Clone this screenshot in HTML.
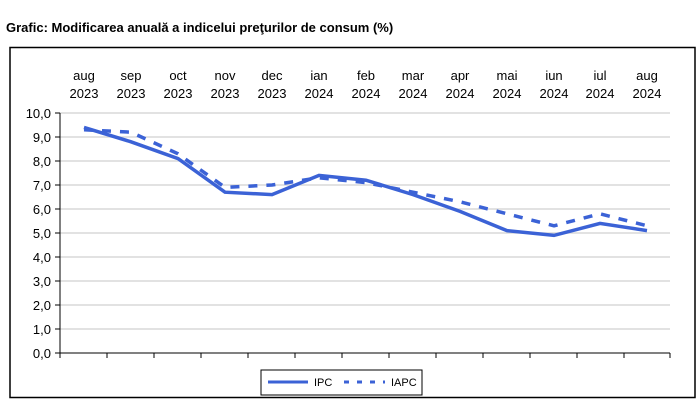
<!DOCTYPE html>
<html><head><meta charset="utf-8"><style>
body{margin:0;background:#fff;width:700px;height:407px;overflow:hidden}
</style></head><body>
<svg width="700" height="407" xmlns="http://www.w3.org/2000/svg" font-family="Liberation Sans, sans-serif">
<text x="6" y="32" font-size="13" font-weight="bold" fill="#000">Grafic: Modificarea anuală a indicelui preţurilor de consum (%)</text>
<rect x="10" y="47.5" width="685" height="350" fill="none" stroke="#000" stroke-width="1.5"/>
<g stroke="#d9d9d9" stroke-width="1.5">
<line x1="60" x2="670" y1="113" y2="113"/><line x1="60" x2="670" y1="137" y2="137"/><line x1="60" x2="670" y1="161" y2="161"/><line x1="60" x2="670" y1="185" y2="185"/><line x1="60" x2="670" y1="209" y2="209"/><line x1="60" x2="670" y1="233" y2="233"/><line x1="60" x2="670" y1="257" y2="257"/><line x1="60" x2="670" y1="281" y2="281"/><line x1="60" x2="670" y1="305" y2="305"/><line x1="60" x2="670" y1="329" y2="329"/>
</g>
<g stroke="#000" stroke-width="1">
<line x1="60" x2="60" y1="113" y2="358"/>
<line x1="60" x2="670" y1="353" y2="353"/>
<path d="M55 113h5M55 137h5M55 161h5M55 185h5M55 209h5M55 233h5M55 257h5M55 281h5M55 305h5M55 329h5M55 353h5"/>
<path d="M107 353v5M154 353v5M201 353v5M248 353v5M295 353v5M342 353v5M389 353v5M436 353v5M483 353v5M530 353v5M577 353v5M624 353v5M670 353v5"/>
</g>
<g font-size="13" text-anchor="end" fill="#000">
<text x="51" y="118">10,0</text><text x="51" y="142">9,0</text><text x="51" y="166">8,0</text><text x="51" y="190">7,0</text><text x="51" y="214">6,0</text><text x="51" y="238">5,0</text><text x="51" y="262">4,0</text><text x="51" y="286">3,0</text><text x="51" y="310">2,0</text><text x="51" y="334">1,0</text><text x="51" y="358">0,0</text>
</g>
<g font-size="13" text-anchor="middle" fill="#000">
<text x="84" y="80">aug</text><text x="84" y="98">2023</text>
<text x="131" y="80">sep</text><text x="131" y="98">2023</text>
<text x="178" y="80">oct</text><text x="178" y="98">2023</text>
<text x="225" y="80">nov</text><text x="225" y="98">2023</text>
<text x="272" y="80">dec</text><text x="272" y="98">2023</text>
<text x="319" y="80">ian</text><text x="319" y="98">2024</text>
<text x="366" y="80">feb</text><text x="366" y="98">2024</text>
<text x="413" y="80">mar</text><text x="413" y="98">2024</text>
<text x="460" y="80">apr</text><text x="460" y="98">2024</text>
<text x="507" y="80">mai</text><text x="507" y="98">2024</text>
<text x="554" y="80">iun</text><text x="554" y="98">2024</text>
<text x="600" y="80">iul</text><text x="600" y="98">2024</text>
<text x="647" y="80">aug</text><text x="647" y="98">2024</text>
</g>
<polyline fill="none" stroke="#3b62d6" stroke-width="3.5" stroke-dasharray="9,9" points="84,129.8 131,132.2 178,153.8 225,187.4 272,185 319,177.8 366,182.6 413,192.2 460,201.8 507,213.8 554,225.8 600,213.8 647,225.8"/>
<polyline fill="none" stroke="#3b62d6" stroke-width="3.5" points="84,127.4 131,141.8 178,158.6 225,192.2 272,194.6 319,175.4 366,180.2 413,194.6 460,211.4 507,230.6 554,235.4 600,223.4 647,230.6"/>
<rect x="261" y="370" width="161" height="25" fill="#fff" stroke="#000" stroke-width="1"/>
<line x1="268" x2="308" y1="382" y2="382" stroke="#3b62d6" stroke-width="3"/>
<text x="314" y="386" font-size="11">IPC</text>
<line x1="344" x2="385" y1="382" y2="382" stroke="#3b62d6" stroke-width="3" stroke-dasharray="5,8"/>
<text x="391" y="386" font-size="11">IAPC</text>
</svg>
</body></html>
